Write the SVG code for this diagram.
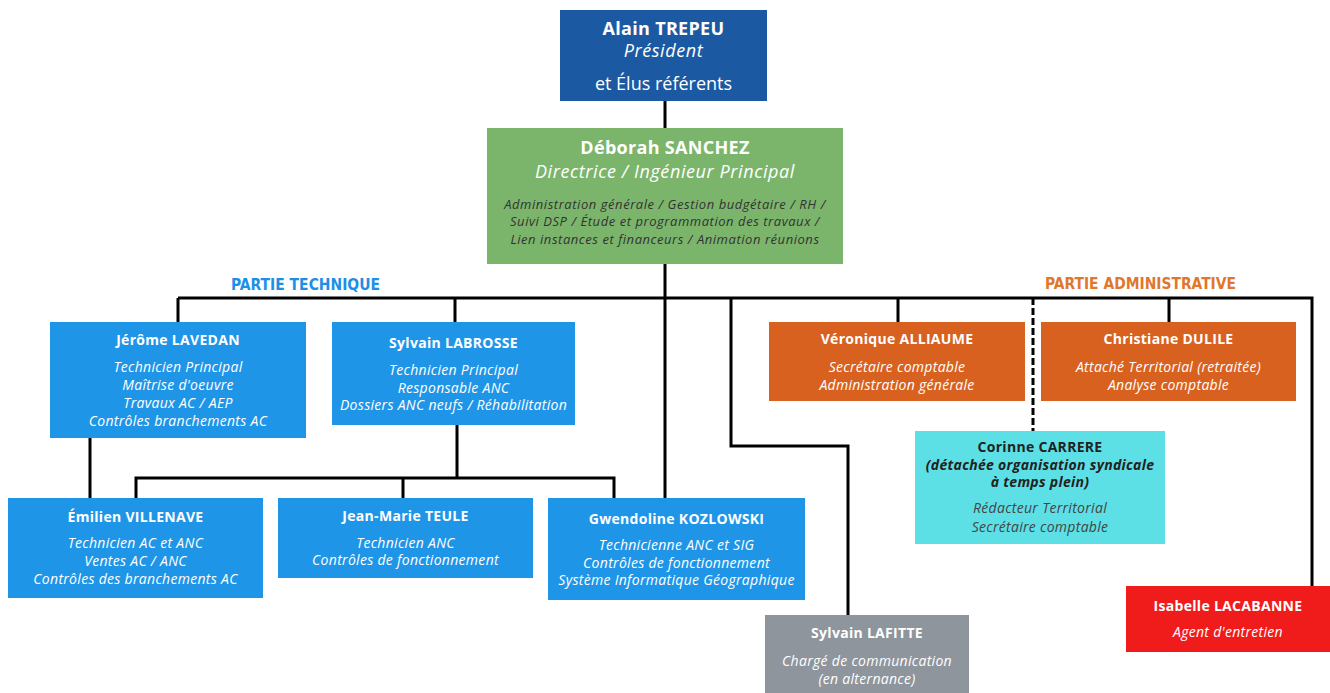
<svg xmlns="http://www.w3.org/2000/svg" width="1330" height="693" viewBox="0 0 1330 693">
<style>
text{font-family:"Open Sans","Liberation Sans",sans-serif;text-anchor:middle;fill:#fff}
.nm{font-weight:700;font-size:14px;letter-spacing:0.3px}
.it{font-style:italic;font-size:14px;letter-spacing:0.3px}
.big{font-weight:700;font-size:18px;letter-spacing:0.3px}
.bigi{font-style:italic;font-size:18px;letter-spacing:0.6px}
.sm{font-style:italic;font-size:13px;letter-spacing:0.55px;fill:#333}
.hd{font-family:"DejaVu Sans Condensed","DejaVu Sans",sans-serif;font-weight:700;font-size:16px}
.ln{fill:none;stroke:#000;stroke-width:3}
.dk{fill:#222}
.gy{fill:#444}
</style>
<rect width="1330" height="693" fill="#fff"/>
<g id="connectors">
<path class="ln" d="M665 101V128M665 264V498M178 298H1312V586M178 298V322M455 298V322M731 298V446H848V615M898 298V322M1169 298V322"/>
<path class="ln" d="M1033 298V431" stroke-dasharray="7 3"/>
<path class="ln" d="M90 438V498M457 425V478M136 498V478H614V498M403 478V498"/>
</g>
<g id="labels">
<text class="hd" x="305.5" y="290" style="fill:#1e8fe6" textLength="149" lengthAdjust="spacingAndGlyphs">PARTIE TECHNIQUE</text>
<text class="hd" x="1140.5" y="289" style="fill:#e0772c" textLength="191" lengthAdjust="spacingAndGlyphs">PARTIE ADMINISTRATIVE</text>
</g>
<g id="alain">
<rect x="560" y="10" width="207" height="91" fill="#1b5aa3"/>
<text class="big" x="663.5" y="35">Alain TREPEU</text>
<text class="bigi" x="663.5" y="57">Président</text>
<text x="663.5" y="90" style="font-size:18px">et Élus référents</text>
</g>
<g id="deborah">
<rect x="487" y="128" width="356" height="136" fill="#7bb56b"/>
<text class="big" x="665" y="154">Déborah SANCHEZ</text>
<text class="bigi" x="665" y="178">Directrice / Ingénieur Principal</text>
<text class="sm" x="665" y="209">Administration générale / Gestion budgétaire / RH /</text>
<text class="sm" x="665" y="226">Suivi DSP / Étude et programmation des travaux /</text>
<text class="sm" x="665" y="244">Lien instances et financeurs / Animation réunions</text>
</g>
<g id="jerome">
<rect x="50" y="322" width="256" height="116" fill="#1f95e8"/>
<text class="nm" x="178" y="345">Jérôme LAVEDAN</text>
<text class="it" x="178" y="372">Technicien Principal</text>
<text class="it" x="178" y="390">Maîtrise d'oeuvre</text>
<text class="it" x="178" y="408">Travaux AC / AEP</text>
<text class="it" x="178" y="426">Contrôles branchements AC</text>
</g>
<g id="labrosse">
<rect x="332" y="322" width="243" height="103" fill="#1f95e8"/>
<text class="nm" x="453.5" y="348">Sylvain LABROSSE</text>
<text class="it" x="453.5" y="375">Technicien Principal</text>
<text class="it" x="453.5" y="393">Responsable ANC</text>
<text class="it" x="453.5" y="410">Dossiers ANC neufs / Réhabilitation</text>
</g>
<g id="emilien">
<rect x="8" y="498" width="255" height="100" fill="#1f95e8"/>
<text class="nm" x="135.5" y="522">Émilien VILLENAVE</text>
<text class="it" x="135.5" y="548">Technicien AC et ANC</text>
<text class="it" x="135.5" y="566">Ventes AC / ANC</text>
<text class="it" x="135.5" y="584">Contrôles des branchements AC</text>
</g>
<g id="jeanmarie">
<rect x="278" y="498" width="255" height="80" fill="#1f95e8"/>
<text class="nm" x="405.5" y="521">Jean-Marie TEULE</text>
<text class="it" x="405.5" y="548">Technicien ANC</text>
<text class="it" x="405.5" y="565">Contrôles de fonctionnement</text>
</g>
<g id="gwendoline">
<rect x="548" y="498" width="257" height="102" fill="#1f95e8"/>
<text class="nm" x="676.5" y="524">Gwendoline KOZLOWSKI</text>
<text class="it" x="676.5" y="550">Technicienne ANC et SIG</text>
<text class="it" x="676.5" y="568">Contrôles de fonctionnement</text>
<text class="it" x="676.5" y="585">Système Informatique Géographique</text>
</g>
<g id="lafitte">
<rect x="765" y="615" width="204" height="80" fill="#8e959c"/>
<text class="nm" x="867" y="638">Sylvain LAFITTE</text>
<text class="it" x="867" y="666">Chargé de communication</text>
<text class="it" x="867" y="684">(en alternance)</text>
</g>
<g id="veronique">
<rect x="769" y="322" width="256" height="79" fill="#d9611f"/>
<text class="nm" x="897" y="344">Véronique ALLIAUME</text>
<text class="it" x="897" y="372">Secrétaire comptable</text>
<text class="it" x="897" y="390">Administration générale</text>
</g>
<g id="christiane">
<rect x="1041" y="322" width="255" height="79" fill="#d9611f"/>
<text class="nm" x="1168.5" y="344">Christiane DULILE</text>
<text class="it" x="1168.5" y="372">Attaché Territorial (retraitée)</text>
<text class="it" x="1168.5" y="390">Analyse comptable</text>
</g>
<g id="corinne">
<rect x="915" y="431" width="250" height="113" fill="#5ce0e6"/>
<text class="nm dk" x="1040" y="452">Corinne CARRERE</text>
<text class="nm dk" x="1040" y="470" style="font-style:italic">(détachée organisation syndicale</text>
<text class="nm dk" x="1040" y="487" style="font-style:italic">à temps plein)</text>
<text class="it gy" x="1040" y="513">Rédacteur Territorial</text>
<text class="it gy" x="1040" y="532">Secrétaire comptable</text>
</g>
<g id="isabelle">
<rect x="1126" y="586" width="204" height="66" fill="#f01c1c"/>
<text class="nm" x="1228" y="611">Isabelle LACABANNE</text>
<text class="it" x="1228" y="637">Agent d'entretien</text>
</g>
</svg>
